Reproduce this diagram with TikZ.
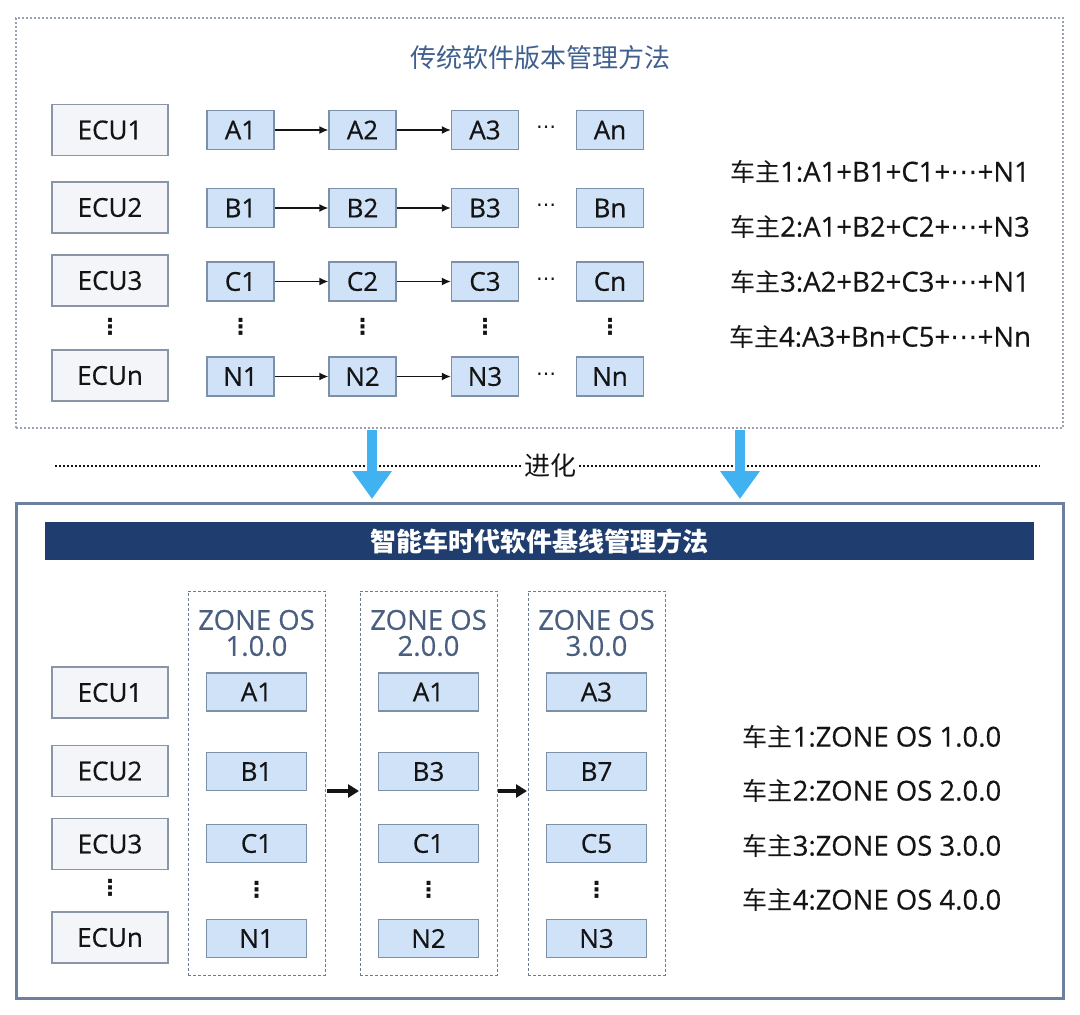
\documentclass[tikz,border=0pt]{standalone}
\usepackage{fontspec}
\setmainfont{Open Sans}[FakeBold=0.5]
\newfontfamily\cjk{Noto Sans CJK SC}
\newfontfamily\dvfont{DejaVu Sans}
\newcommand\cjkpart[1]{{\cjk\fontsize{25}{25}\selectfont #1}}
\usetikzlibrary{arrows.meta}
\definecolor{ecufill}{HTML}{F3F5F9}
\definecolor{eculine}{HTML}{8A95A8}
\definecolor{swfill}{HTML}{CFE2F8}
\definecolor{swline}{HTML}{7D90AA}
\definecolor{titleblue}{HTML}{3F5F8F}
\definecolor{zonetext}{HTML}{4A5E80}
\definecolor{navy}{HTML}{1F3D6F}
\definecolor{framecol}{HTML}{6D80A0}
\definecolor{dotgray}{HTML}{9AA3B2}
\definecolor{zonegray}{HTML}{6B7C98}
\definecolor{evoblue}{HTML}{40B2F2}
\definecolor{ink}{HTML}{141414}
\begin{document}
\begin{tikzpicture}[x=1pt,y=-1pt,
  ecu/.style={draw=eculine, fill=ecufill, line width=1.2pt, minimum width=116pt, minimum height=51pt, inner sep=0pt, text=ink, font=\fontsize{26}{26}\selectfont},
  sw/.style={draw=swline, fill=swfill, line width=1.2pt, minimum width=67pt, minimum height=39pt, inner sep=0pt, text=ink, font=\fontsize{26}{26}\selectfont},
  zsw/.style={sw, minimum width=100pt, minimum height=38pt},
  vdot/.style={inner sep=0pt, text=ink, font=\dvfont\bfseries\fontsize{22}{22}\selectfont},
  hdot/.style={inner sep=0pt, text=ink, font=\dvfont\fontsize{20}{20}\selectfont},
  flow/.style={-{Latex[length=9pt,width=8pt]}, line width=1.6pt, ink},
  zflow/.style={-{Triangle[length=11pt,width=13pt]}, line width=3.5pt, ink},
  owner/.style={inner sep=0pt, text=ink, font=\fontsize{27.5}{27.5}\selectfont},
  zone/.style={draw=zonegray, line width=1pt, dash pattern=on 3pt off 2pt, minimum width=137pt, minimum height=384pt, inner sep=0pt},
  ztitle/.style={inner sep=0pt, align=center, text=zonetext, font=\fontsize{27.5}{26}\selectfont},
  evo/.style={evoblue, line width=10pt, -{Triangle[length=28pt,width=38pt]}}
]
\useasboundingbox (0,0) rectangle (1080,1015);

% ---------- top panel ----------
\node[draw=dotgray, line width=1.2pt, dash pattern=on 2pt off 2pt, minimum width=1047pt, minimum height=410pt, inner sep=0pt] (oldbox) at (539.5,223) {};
\node[text=titleblue, font=\cjk\fontsize{26}{26}\selectfont, inner sep=0pt] (oldtitle) at (540,58) {传统软件版本管理方法};

\node[ecu] (e1) at (110,130) {ECU1};
\node[ecu] (e2) at (110,207.5) {ECU2};
\node[ecu] (e3) at (110,280.5) {ECU3};
\node[vdot] (ed) at (110,327) {⋮};
\node[ecu] (en) at (110,375.5) {ECUn};

\foreach \r/\y in {A/130, B/208, C/281.5, N/376.5}{
  \node[sw] (\r1) at (240.5,\y) {\r1};
  \node[sw] (\r2) at (362.5,\y) {\r2};
  \node[sw] (\r3) at (485,\y) {\r3};
  \node[hdot] (\r d) at (546,\y) {⋯};
  \node[sw] (\r n) at (610,\y) {\r n};
  \draw[flow] (\r1) -- (\r2);
  \draw[flow] (\r2) -- (\r3);
}
\node[vdot] (d1) at (240.5,327) {⋮};
\node[vdot] (d2) at (362.5,327) {⋮};
\node[vdot] (d3) at (485,327) {⋮};
\node[vdot] (dn) at (610,327) {⋮};

\node[owner] (o1) at (880,172) {\cjkpart{车主}1:A1+B1+C1+{\dvfont ⋯}+N1};
\node[owner] (o2) at (880,227) {\cjkpart{车主}2:A1+B2+C2+{\dvfont ⋯}+N3};
\node[owner] (o3) at (880,282) {\cjkpart{车主}3:A2+B2+C3+{\dvfont ⋯}+N1};
\node[owner] (o4) at (880,337) {\cjkpart{车主}4:A3+Bn+C5+{\dvfont ⋯}+Nn};

% ---------- evolution ----------
\coordinate (lineL) at (55,466);
\coordinate (lineR) at (1040,466);
\draw[ink, line width=1.6pt, dash pattern=on 1.6pt off 2.4pt] (lineL) -- (lineR);
\coordinate (s1) at (372,430);
\coordinate (t1) at (372,499);
\coordinate (s2) at (740,430);
\coordinate (t2) at (740,499);
\draw[evo] (s1) -- (t1);
\draw[evo] (s2) -- (t2);
\node[fill=white, inner xsep=3pt, inner ysep=2pt, text=ink, font=\cjk\fontsize{26}{26}\selectfont] (evotext) at (550,466) {进化};

% ---------- bottom panel ----------
\node[draw=framecol, line width=3pt, minimum width=1047pt, minimum height=495pt, inner sep=0pt] (newbox) at (539.5,750.5) {};
\node[fill=navy, minimum width=989pt, minimum height=38pt, inner sep=0pt, text=white, font=\cjk\bfseries\fontsize{26}{26}\selectfont] (banner) at (539.5,541) {智能车时代软件基线管理方法};

\node[ecu] (f1) at (110,692.5) {ECU1};
\node[ecu] (f2) at (110,771) {ECU2};
\node[ecu] (f3) at (110,844) {ECU3};
\node[vdot] (fd) at (110,888) {⋮};
\node[ecu] (fn) at (110,937.5) {ECUn};

\foreach \k/\x/\ver/\a/\b/\c/\n in {1/256.5/1.0.0/A1/B1/C1/N1, 2/428.5/2.0.0/A1/B3/C1/N2, 3/596.5/3.0.0/A3/B7/C5/N3}{
  \node[zone] (z\k) at (\x,783) {};
  \node[ztitle] (zt\k) at (\x,633) {ZONE OS\\\ver};
  \node[zsw] (za\k) at (\x,692) {\a};
  \node[zsw] (zb\k) at (\x,771.5) {\b};
  \node[zsw] (zc\k) at (\x,843.5) {\c};
  \node[vdot] (zd\k) at (\x,890) {⋮};
  \node[zsw] (zn\k) at (\x,938.5) {\n};
}
\coordinate (m1) at (327,791);
\coordinate (m2) at (359,791);
\coordinate (m3) at (498,791);
\coordinate (m4) at (527,791);
\draw[zflow] (m1) -- (m2);
\draw[zflow] (m3) -- (m4);

\node[owner] (p1) at (872,737) {\cjkpart{车主}1:ZONE OS 1.0.0};
\node[owner] (p2) at (872,791) {\cjkpart{车主}2:ZONE OS 2.0.0};
\node[owner] (p3) at (872,846) {\cjkpart{车主}3:ZONE OS 3.0.0};
\node[owner] (p4) at (872,900) {\cjkpart{车主}4:ZONE OS 4.0.0};
\end{tikzpicture}
\end{document}
